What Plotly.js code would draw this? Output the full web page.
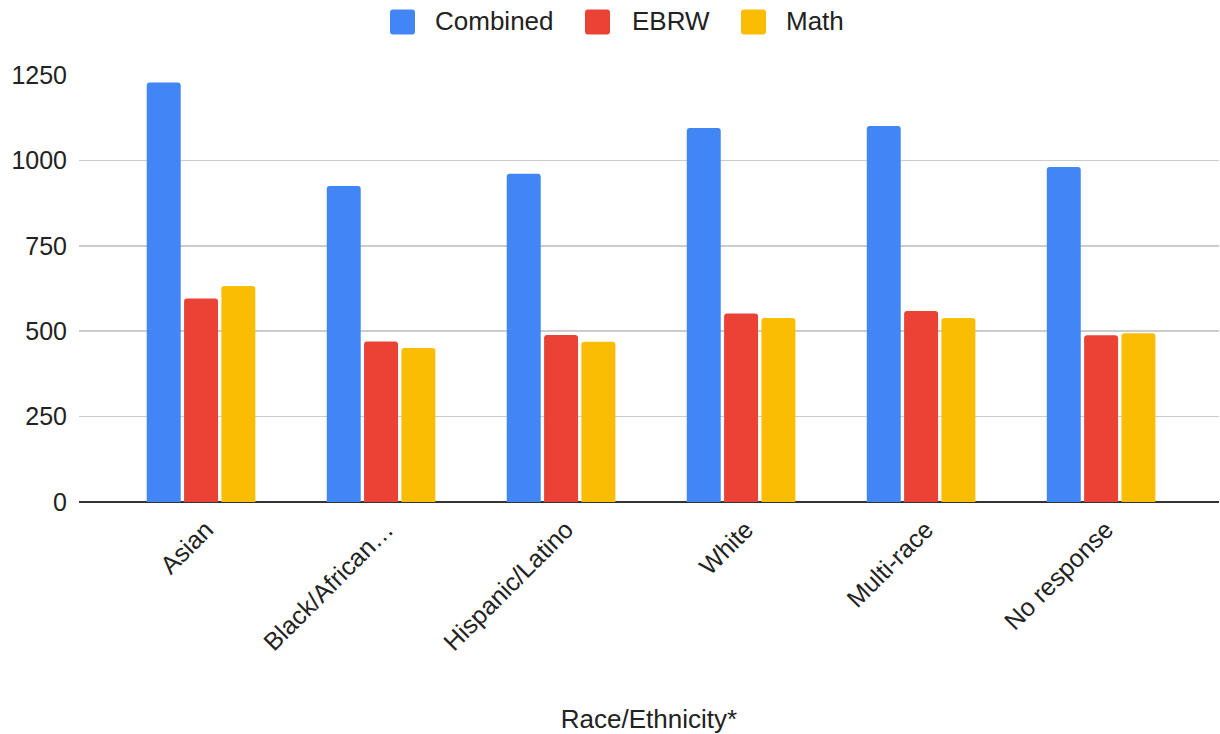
<!DOCTYPE html>
<html>
<head>
<meta charset="utf-8">
<script src="https://cdn.plot.ly/plotly-3.0.1.min.js"></script>
<style>
  html, body { margin: 0; padding: 0; background: #fff; }
  #chart { width: 1220px; height: 734px; }
</style>
</head>
<body>
<div id="chart"></div>
<script>
const categories = ["Asian", "Black/African\u2026", "Hispanic/Latino", "White", "Multi-race", "No response"];
const combined = [1228, 925, 961, 1095, 1101, 981];
const ebrw = [596, 470, 489, 552, 559, 488];
const math = [632, 451, 469, 539, 539, 494];
const seriesNames = ["Combined", "EBRW", "Math"];
const yTicks = [0, 250, 500, 750, 1000, 1250];

const colors = ["#4285F4", "#EA4335", "#FBBC04"];
const font = "Liberation Sans, Arial, Helvetica, sans-serif";
const textColor = "#222222";

const W = 1220, H = 734;
const M = { l: 79, r: 1, t: 75, b: 232 };
const plotW = W - M.l - M.r, plotH = H - M.t - M.b;
const px2x = p => (p - M.l) / plotW;
const px2y = p => (H - M.b - p) / plotH;

const traces = [combined, ebrw, math].map((vals, i) => ({
  type: "bar",
  name: seriesNames[i],
  x: categories,
  y: vals,
  marker: { color: colors[i], cornerradius: 3, line: { width: 0 } },
  hoverinfo: "x+y+name",
  showlegend: false
}));

// custom legend (large rounded swatches like the reference)
const legendSwatchX = [390, 585, 741];
const legendTextX = [433, 630, 784];
const swatch = 25, legendCy = 22;
const shapes = [];
const annotations = [];
seriesNames.forEach((n, i) => {
  const x0 = legendSwatchX[i], x1 = x0 + swatch, y0 = legendCy - swatch / 2, y1 = legendCy + swatch / 2, r = 3;
  const X = v => px2x(v), Y = v => px2y(v);
  shapes.push({
    type: "path", xref: "paper", yref: "paper",
    path: `M${X(x0 + r)},${Y(y0)} L${X(x1 - r)},${Y(y0)} Q${X(x1)},${Y(y0)} ${X(x1)},${Y(y0 + r)} ` +
          `L${X(x1)},${Y(y1 - r)} Q${X(x1)},${Y(y1)} ${X(x1 - r)},${Y(y1)} L${X(x0 + r)},${Y(y1)} ` +
          `Q${X(x0)},${Y(y1)} ${X(x0)},${Y(y1 - r)} L${X(x0)},${Y(y0 + r)} Q${X(x0)},${Y(y0)} ${X(x0 + r)},${Y(y0)} Z`,
    fillcolor: colors[i], line: { width: 0 }, layer: "above"
  });
  annotations.push({
    xref: "paper", yref: "paper",
    x: px2x(legendTextX[i]), y: px2y(legendCy - 1),
    xanchor: "left", yanchor: "middle",
    text: n, showarrow: false,
    font: { family: font, size: 26, color: textColor }
  });
});

const layout = {
  width: W,
  height: H,
  margin: M,
  paper_bgcolor: "#ffffff",
  plot_bgcolor: "#ffffff",
  font: { family: font, size: 25, color: textColor },
  barmode: "group",
  bargap: 0.378,
  bargroupgap: 0.09,
  showlegend: false,
  shapes: shapes,
  annotations: annotations,
  xaxis: {
    type: "category",
    range: [-0.678, 5.655],
    tickangle: -45,
    showgrid: false,
    showline: false,
    ticks: "",
    ticklabelstandoff: 7,
    ticklabelshift: 5,
    tickfont: { family: font, size: 25, color: textColor },
    title: { text: "Race/Ethnicity*", font: { family: font, size: 26, color: textColor }, standoff: 58 },
    automargin: false
  },
  yaxis: {
    range: [0, 1250],
    tickvals: yTicks,
    ticktext: yTicks.map(String),
    showgrid: true,
    gridcolor: "#cccccc",
    gridwidth: 1.5,
    zeroline: true,
    zerolinecolor: "#333333",
    zerolinewidth: 2,
    showline: false,
    ticks: "",
    ticklabelstandoff: 11,
    tickfont: { family: font, size: 25, color: textColor },
    automargin: false
  }
};

Plotly.newPlot("chart", traces, layout, { displayModeBar: false, staticPlot: true });
</script>
</body>
</html>
